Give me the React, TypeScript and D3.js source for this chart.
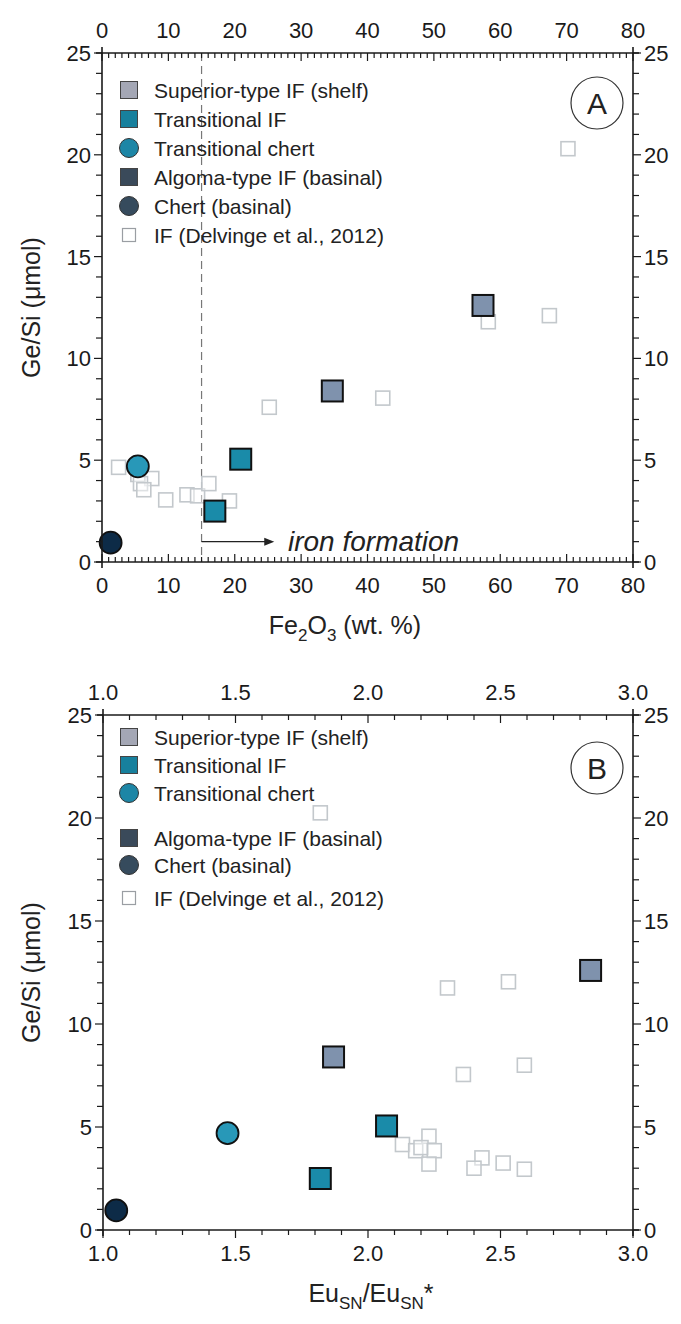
import React from 'react';
import * as d3 from 'd3';

// Ge/Si vs Fe2O3 and Eu anomaly for iron formations and cherts

// this study
const superiorFe = [34.7, 57.4];
const superiorEu = [1.87, 2.84];
const superiorGeSi = [8.4, 12.6];

const transIFFe = [20.9, 17.0];
const transIFEu = [2.07, 1.82];
const transIFGeSi = [5.05, 2.5];

const transChertFe = [5.4];
const transChertEu = [1.47];
const transChertGeSi = [4.7];

const chertFe = [1.3];
const chertEu = [1.05];
const chertGeSi = [0.95];

// Delvinge et al. 2012
const delvFe = [2.5, 5.4, 7.5, 5.8, 6.3, 9.6, 12.8, 14.4, 16.1, 19.2, 25.2, 42.3, 58.2, 67.4, 70.2];
const delvGeSiA = [4.65, 4.3, 4.1, 3.85, 3.55, 3.05, 3.3, 3.25, 3.85, 3.0, 7.6, 8.05, 11.8, 12.1, 20.3];
const delvEu = [2.3, 2.53, 2.36, 2.59, 2.23, 2.13, 2.18, 2.2, 2.25, 2.23, 2.43, 2.4, 2.51, 2.59, 1.82];
const delvGeSiB = [11.75, 12.05, 7.55, 8.0, 4.55, 4.15, 3.85, 4.0, 3.85, 3.2, 3.5, 3.0, 3.25, 2.95, 20.25];

const xTicksA = [0, 10, 20, 30, 40, 50, 60, 70, 80];
const xTicksB = [1.0, 1.5, 2.0, 2.5, 3.0];
const yTicks = [0, 5, 10, 15, 20, 25];

const legendLabels = [
  'Superior-type IF (shelf)',
  'Transitional IF',
  'Transitional chert',
  'Algoma-type IF (basinal)',
  'Chert (basinal)',
  'IF (Delvinge et al., 2012)',
];

const FONT = "'Liberation Sans', Arial, Helvetica, sans-serif";
const AXIS = '#1a1a1a';

const legendStyle = [
  { shape: 'square', fill: '#a4a7b5' },
  { shape: 'square', fill: '#17809d' },
  { shape: 'circle', fill: '#1d86a6' },
  { shape: 'square', fill: '#3a4a5a' },
  { shape: 'circle', fill: '#364b5d' },
  { shape: 'open', fill: 'none' },
];

const Frame = ({ x, y, xTicks, xMinor, xFmt, bottomTicksOut }) => {
  const [x0, x1] = x.range();
  const [y0, y1] = y.range(); // y0 bottom, y1 top
  const yMinor = d3.range(0, 26, 1);
  return (
    <g stroke={AXIS} fill="none">
      <line x1={x0 - 6} x2={x1 + 6} y1={y1} y2={y1} strokeWidth={1.6} />
      <line x1={x0 - 6} x2={x1 + 6} y1={y0} y2={y0} strokeWidth={1.6} />
      <line x1={x0} x2={x0} y1={y1 - 6} y2={y0 + 6} strokeWidth={1.6} />
      <line x1={x1} x2={x1} y1={y1 - 6} y2={y0 + 6} strokeWidth={1.6} />
      {xMinor.map((t, i) => {
        const major = xTicks.some((m) => Math.abs(m - t) < 1e-6);
        const len = major ? 8 : 5;
        return (
          <g key={'xm' + i} strokeWidth={1.2}>
            <line x1={x(t)} x2={x(t)} y1={y1} y2={y1 + len} />
            {bottomTicksOut ? (
              <line x1={x(t)} x2={x(t)} y1={y0} y2={y0 + len} />
            ) : (
              <line x1={x(t)} x2={x(t)} y1={y0} y2={y0 - len} />
            )}
          </g>
        );
      })}
      {yMinor.map((t) => {
        const len = t % 5 === 0 ? 8 : 6;
        return (
          <g key={'ym' + t} strokeWidth={1.2}>
            <line x1={x0} x2={x0 - len} y1={y(t)} y2={y(t)} />
            <line x1={x1} x2={x1 + len} y1={y(t)} y2={y(t)} />
          </g>
        );
      })}
      <g stroke="none" fill={AXIS} fontFamily={FONT} fontSize={22}>
        {xTicks.map((t) => (
          <text key={'tt' + t} x={x(t)} y={y1 - 15} textAnchor="middle">{xFmt(t)}</text>
        ))}
        {xTicks.map((t) => (
          <text key={'bt' + t} x={x(t)} y={y0 + 31} textAnchor="middle">{xFmt(t)}</text>
        ))}
        {yTicks.map((t) => (
          <text key={'ly' + t} x={x0 - 11} y={y(t) + 8} textAnchor="end">{t}</text>
        ))}
        {yTicks.map((t) => (
          <text key={'ry' + t} x={x1 + 11} y={y(t) + 8} textAnchor="start">{t}</text>
        ))}
      </g>
    </g>
  );
};

const Legend = ({ x, ys }) => (
  <g fontFamily={FONT} fontSize={21} fill="#222">
    {legendLabels.map((lab, i) => {
      const s = legendStyle[i];
      const cy = ys[i];
      let mark;
      if (s.shape === 'square') {
        mark = <rect x={x - 8.5} y={cy - 8.5} width={17} height={17} fill={s.fill} stroke="#444" strokeWidth={1} />;
      } else if (s.shape === 'circle') {
        mark = <circle cx={x} cy={cy} r={9.5} fill={s.fill} stroke="#333" strokeWidth={1} />;
      } else {
        mark = <rect x={x - 6.5} y={cy - 6.5} width={13} height={13} fill="white" stroke="#9a9ea3" strokeWidth={1.2} />;
      }
      return (
        <g key={lab}>
          {mark}
          <text x={x + 25} y={cy + 7.5}>{lab}</text>
        </g>
      );
    })}
  </g>
);

const Points = ({ x, y, fe, gs }) => {
  const sq = 21;
  const r = 11;
  return (
    <g>
      {fe.delv.map((v, i) => (
        <rect key={'d' + i} x={x(v) - 7} y={y(gs.delv[i]) - 7} width={14} height={14}
          fill="white" fillOpacity={0.45} stroke="#c3c8cc" strokeWidth={1.6} />
      ))}
      {fe.sup.map((v, i) => (
        <rect key={'s' + i} x={x(v) - sq / 2} y={y(gs.sup[i]) - sq / 2} width={sq} height={sq}
          fill="#7f92ad" stroke="#111" strokeWidth={2} />
      ))}
      {fe.tif.map((v, i) => (
        <rect key={'t' + i} x={x(v) - sq / 2} y={y(gs.tif[i]) - sq / 2} width={sq} height={sq}
          fill="#1a8ba9" stroke="#111" strokeWidth={2} />
      ))}
      {fe.tch.map((v, i) => (
        <circle key={'c' + i} cx={x(v)} cy={y(gs.tch[i])} r={r} fill="#2898b8" stroke="#111" strokeWidth={1.8} />
      ))}
      {fe.ch.map((v, i) => (
        <circle key={'b' + i} cx={x(v)} cy={y(gs.ch[i])} r={r} fill="#0d2b47" stroke="#111" strokeWidth={1.8} />
      ))}
    </g>
  );
};

export default function App() {
  const xA = d3.scaleLinear().domain([0, 80]).range([102, 633]);
  const yA = d3.scaleLinear().domain([0, 25]).range([562, 53]);
  const xB = d3.scaleLinear().domain([1, 3]).range([103, 633]);
  const yB = d3.scaleLinear().domain([0, 25]).range([1230, 715]);

  const gsA = { sup: superiorGeSi, tif: transIFGeSi, tch: transChertGeSi, ch: chertGeSi, delv: delvGeSiA };
  const gsB = { sup: superiorGeSi, tif: transIFGeSi, tch: transChertGeSi, ch: chertGeSi, delv: delvGeSiB };

  return (
    <svg width={681} height={1324} style={{ position: 'absolute', left: 0, top: 0, background: 'white' }}>
      {/* Panel A */}
      <line x1={xA(15)} x2={xA(15)} y1={yA(25)} y2={yA(0)} stroke="#777" strokeWidth={1.2} strokeDasharray="8,5" />
      <Points x={xA} y={yA}
        fe={{ sup: superiorFe, tif: transIFFe, tch: transChertFe, ch: chertFe, delv: delvFe }} gs={gsA} />
      <Frame x={xA} y={yA} xTicks={xTicksA} xMinor={d3.range(0, 81, 1)} xFmt={(t) => String(t)} bottomTicksOut={false} />
      <Legend x={129} ys={[90, 119, 148, 177, 206, 235]} />
      <circle cx={597} cy={103} r={26} fill="white" stroke="#333" strokeWidth={1.2} />
      <text x={597} y={114} textAnchor="middle" fontFamily={FONT} fontSize={30} fill="#222">A</text>
      <line x1={xA(15)} x2={xA(25.5)} y1={yA(1)} y2={yA(1)} stroke="#222" strokeWidth={1.2} />
      <path d={`M${xA(25.5) + 3},${yA(1)} l-10,-4 l0,8 z`} fill="#222" />
      <text x={288} y={yA(1) + 9} fontFamily={FONT} fontStyle="italic" fontSize={28} fill="#222">iron formation</text>
      <text x={345} y={634} textAnchor="middle" fontFamily={FONT} fontSize={25} fill="#222">
        Fe<tspan fontSize={17} dy={7}>2</tspan><tspan dy={-7}>O</tspan><tspan fontSize={17} dy={7}>3</tspan><tspan dy={-7}> (wt. %)</tspan>
      </text>
      <text transform={`translate(40,${(yA(0) + yA(25)) / 2}) rotate(-90)`} textAnchor="middle" fontFamily={FONT} fontSize={25} fill="#222">Ge/Si (μmol)</text>

      {/* Panel B */}
      <Points x={xB} y={yB}
        fe={{ sup: superiorEu, tif: transIFEu, tch: transChertEu, ch: chertEu, delv: delvEu }} gs={gsB} />
      <Frame x={xB} y={yB} xTicks={xTicksB} xMinor={d3.range(10, 31, 1).map((d) => d / 10)} xFmt={d3.format('.1f')} bottomTicksOut={true} />
      <Legend x={129} ys={[737, 765, 793, 838, 865, 898]} />
      <circle cx={597} cy={768} r={26} fill="white" stroke="#333" strokeWidth={1.2} />
      <text x={597} y={779} textAnchor="middle" fontFamily={FONT} fontSize={30} fill="#222">B</text>
      <text x={371} y={1302} textAnchor="middle" fontFamily={FONT} fontSize={25} fill="#222">
        Eu<tspan fontSize={17} dy={7}>SN</tspan><tspan dy={-7}>/Eu</tspan><tspan fontSize={17} dy={7}>SN</tspan><tspan dy={-7}>*</tspan>
      </text>
      <text transform={`translate(40,${(yB(0) + yB(25)) / 2}) rotate(-90)`} textAnchor="middle" fontFamily={FONT} fontSize={25} fill="#222">Ge/Si (μmol)</text>
    </svg>
  );
}
